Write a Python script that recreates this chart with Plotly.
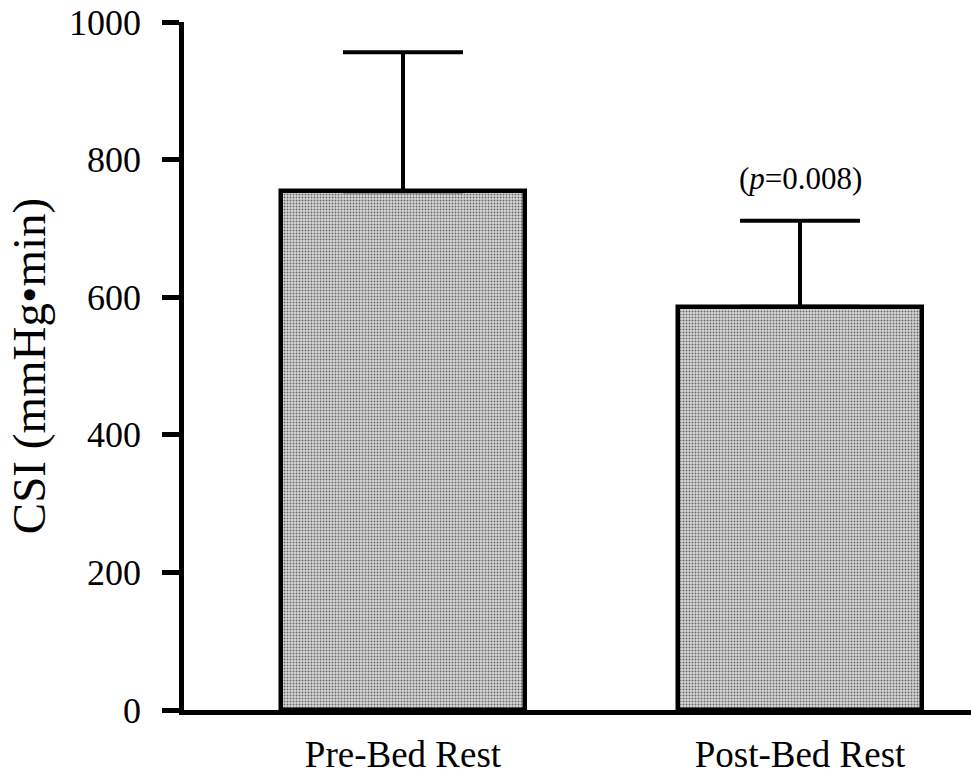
import plotly.graph_objects as go

categories = ["Pre-Bed Rest", "Post-Bed Rest"]
means = [754, 586]
sd_upper = [202, 125]
y_ticks = [0, 200, 400, 600, 800, 1000]
p_label = "(<i>p</i>=0.008)"

x_pos = list(range(len(categories)))
FONT = "Liberation Serif, Times New Roman, serif"

fig = go.Figure()
fig.add_trace(go.Bar(
    x=x_pos,
    y=means,
    width=0.617,
    marker=dict(
        color="#cfcfcf",
        line=dict(color="black", width=4.5),
        pattern=dict(shape=".", fgcolor="#6a6a6a", bgcolor="#d8d8d8",
                     size=3, solidity=0.35, fillmode="replace"),
    ),
    error_y=dict(type="data", array=sd_upper, arrayminus=[0] * len(sd_upper),
                 symmetric=False, color="black", thickness=4, width=60),
    showlegend=False,
))

fig.add_annotation(
    x=x_pos[1], y=means[1] + sd_upper[1], yshift=42,
    text=p_label, showarrow=False,
    font=dict(family=FONT, size=31, color="black"),
)

fig.update_layout(
    width=971, height=780,
    margin=dict(l=184, r=0, t=22, b=70, autoexpand=False),
    plot_bgcolor="white", paper_bgcolor="white",
    font=dict(family=FONT, color="black"),
    bargap=0,
)
fig.update_xaxes(
    range=[-0.5516, 1.4307],
    tickvals=x_pos, ticktext=categories,
    tickfont=dict(family=FONT, size=37, color="black"),
    showline=True, linecolor="black", linewidth=4.5,
    ticks="", showgrid=False, zeroline=False,
    ticklabelstandoff=8, automargin=False,
)
fig.update_yaxes(
    range=[0, 1000],
    tickvals=y_ticks,
    tickfont=dict(family=FONT, size=36, color="black"),
    showline=True, linecolor="black", linewidth=4.5,
    ticks="outside", ticklen=17, tickwidth=4.5, tickcolor="black",
    showgrid=False, zeroline=False, automargin=False,
    ticklabelstandoff=14,
    title=dict(text="CSI (mmHg•min)", font=dict(family=FONT, size=47, color="black"), standoff=10),
)

fig.write_html("out.html")
